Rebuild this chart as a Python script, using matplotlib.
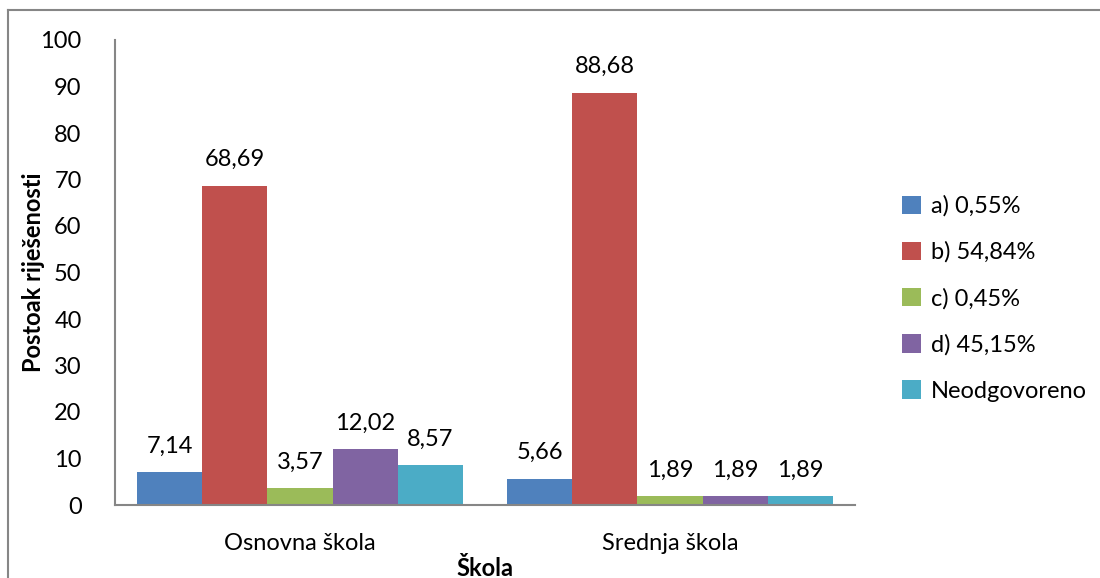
import matplotlib
matplotlib.use("Agg")
import matplotlib.pyplot as plt
import numpy as np
from matplotlib.lines import Line2D

plt.rcParams['font.family'] = ['Lato', 'DejaVu Sans']

categories = ["Osnovna škola", "Srednja škola"]
series_names = ["a) 0,55%", "b) 54,84%", "c) 0,45%", "d) 45,15%", "Neodgovoreno"]
values = [
    [7.14, 5.66],
    [68.69, 88.68],
    [3.57, 1.89],
    [12.02, 1.89],
    [8.57, 1.89],
]
colors = ["#4F81BD", "#C0504D", "#9BBB59", "#8064A2", "#4BACC6"]
yticks = [0, 10, 20, 30, 40, 50, 60, 70, 80, 90, 100]

FS = 17
fig = plt.figure(figsize=(11, 5.78), dpi=100)
ax = fig.add_axes([115/1100, 1-505/578, 740/1100, 465/578])

x = np.arange(len(categories))
bw = 0.176
n = len(series_names)
for i, (name, vals, c) in enumerate(zip(series_names, values, colors)):
    pos = x + (i - (n-1)/2) * bw
    ax.bar(pos, vals, width=bw, color=c, label=name, edgecolor='none')
    for p, v in zip(pos, vals):
        ax.text(p, v + 3.3, f"{v:.2f}".replace('.', ','), ha='center', va='bottom', fontsize=FS, color='black')

ax.set_xlim(-0.5, 1.5)
ax.set_ylim(0, 100)
ax.set_yticks(yticks)
ax.set_xticks(x)
ax.set_xticklabels(categories)
ax.tick_params(axis='both', length=0, labelsize=FS, colors='black')
ax.tick_params(axis='y', pad=24)
ax.tick_params(axis='x', pad=20)
for s in ['top', 'right']:
    ax.spines[s].set_visible(False)
for s in ['left', 'bottom']:
    ax.spines[s].set_color('#868686')
    ax.spines[s].set_linewidth(1.5)

ax.set_ylabel("Postoak riješenosti", fontsize=FS, fontweight='bold')
ax.yaxis.set_label_coords(-70/740, 0.5)
ax.set_xlabel("Škola", fontsize=FS, fontweight='bold')
ax.xaxis.set_label_coords(0.5, -63/465)
ax.xaxis.label.set_va('center')

fig.legend(loc='upper left', bbox_to_anchor=(881/1100, 1-174/578), frameon=False,
           fontsize=FS, handlelength=0.8, handleheight=0.8, handletextpad=0.4,
           labelspacing=1.05)

# outer border (left and top)
fig.add_artist(Line2D([8/1100, 8/1100], [0, 1-10/578], transform=fig.transFigure, color='#868686', lw=1.5))
fig.add_artist(Line2D([8/1100, 1], [1-10/578, 1-10/578], transform=fig.transFigure, color='#868686', lw=1.5))

fig.savefig("out.png", dpi=100)
